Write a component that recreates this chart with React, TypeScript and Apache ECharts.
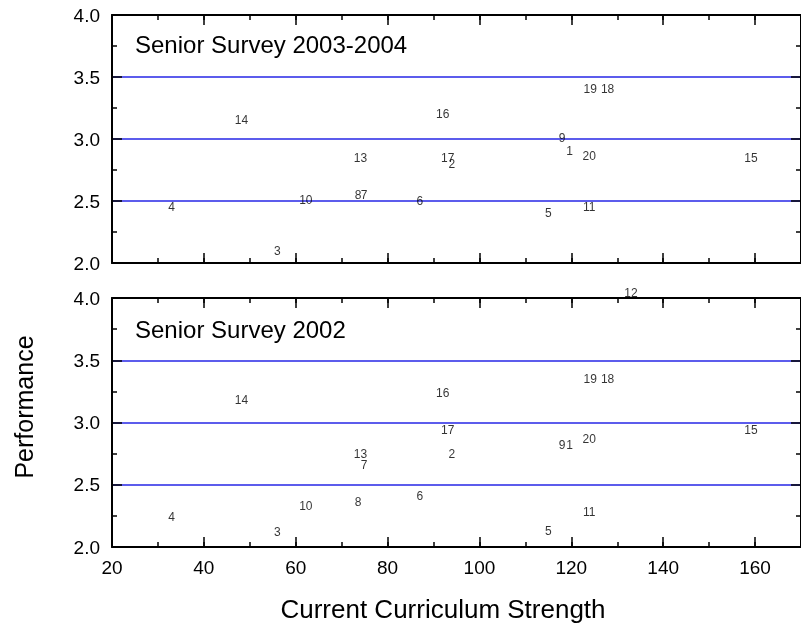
import React, { useEffect, useRef } from "react";
import * as echarts from "echarts";

const pointIds = ["1", "2", "3", "4", "5", "6", "7", "8", "9", "10", "11", "12", "13", "14", "15", "16", "17", "18", "19", "20"];
const curriculum = [119.6, 94.0, 56.0, 33.0, 115.0, 87.0, 74.9, 73.6, 118.0, 62.2, 123.9, 133.0, 74.1, 48.2, 159.1, 92.0, 93.1, 127.9, 124.1, 123.9];
const perf2004: (number | null)[] = [2.9, 2.8, 2.1, 2.45, 2.4, 2.5, 2.55, 2.55, 3.01, 2.51, 2.45, null, 2.85, 3.15, 2.85, 3.2, 2.85, 3.4, 3.4, 2.86];
const perf2002 = [2.82, 2.75, 2.12, 2.24, 2.13, 2.41, 2.66, 2.36, 2.82, 2.33, 2.28, 4.04, 2.75, 3.18, 2.94, 3.24, 2.94, 3.35, 3.35, 2.87];
const panelTitles = ["Senior Survey 2003-2004", "Senior Survey 2002"];
const xTitle = "Current Curriculum Strength";
const yTitle = "Performance";

const FONT = "'Liberation Sans', Arial, Helvetica, sans-serif";
const BLUE = "#2626e6";

function xAxes(gridIndex: number, withLabels: boolean) {
  const base = { type: "value", gridIndex, min: 20, max: 170, splitLine: { show: false } };
  return [
    {
      ...base, position: "bottom", interval: 20,
      axisLine: { show: true, lineStyle: { color: "#000", width: 2 } },
      axisTick: { show: true, inside: true, length: 10, lineStyle: { color: "#000", width: 1.5 } },
      axisLabel: {
        show: withLabels, margin: 11, fontSize: 19, fontFamily: FONT, color: "#000",
        showMaxLabel: false,
      },
    },
    {
      ...base, position: "bottom", interval: 10,
      axisLine: { show: false },
      axisTick: { show: true, inside: true, length: 5, lineStyle: { color: "#000", width: 1.5 } },
      axisLabel: { show: false },
    },
    {
      ...base, position: "top", interval: 20,
      axisLine: { show: true, lineStyle: { color: "#000", width: 2 } },
      axisTick: { show: true, inside: true, length: 10, lineStyle: { color: "#000", width: 1.5 } },
      axisLabel: { show: false },
    },
    {
      ...base, position: "top", interval: 10,
      axisLine: { show: false },
      axisTick: { show: true, inside: true, length: 5, lineStyle: { color: "#000", width: 1.5 } },
      axisLabel: { show: false },
    },
  ];
}

function yAxes(gridIndex: number) {
  const base = {
    type: "value", gridIndex, min: 2, max: 4, interval: 0.5,
    axisLine: { show: true, lineStyle: { color: "#000", width: 2 } },
    axisTick: { show: true, inside: true, length: 10, lineStyle: { color: "#000", width: 1.5 } },
    minorTick: { show: true, splitNumber: 2, length: 5, lineStyle: { color: "#000", width: 1.5 } },
  };
  return [
    {
      ...base, position: "left",
      axisLabel: {
        show: true, margin: 12, fontSize: 19, fontFamily: FONT, color: "#000",
        formatter: (v: number) => v.toFixed(1),
      },
      splitLine: { show: true, showMinLine: false, showMaxLine: false, lineStyle: { color: BLUE, width: 1.5 } },
    },
    {
      ...base, position: "right",
      axisLabel: { show: false },
      splitLine: { show: false },
    },
  ];
}

function pointSeries(values: (number | null)[], xIdx: number, yIdx: number) {
  const data = curriculum
    .map((x, i) => [x, values[i], pointIds[i]])
    .filter((d) => d[1] !== null);
  return {
    type: "scatter",
    xAxisIndex: xIdx,
    yAxisIndex: yIdx,
    symbolSize: 0,
    clip: false,
    silent: true,
    data,
    itemStyle: { color: "#000" },
    label: {
      show: true,
      position: "inside",
      formatter: (p: any) => p.value[2],
      fontSize: 12,
      fontFamily: FONT,
      color: "#000",
      textBorderWidth: 0,
      textBorderColor: "transparent",
    },
    emphasis: { disabled: true },
  };
}

export default function App() {
  const ref = useRef<HTMLDivElement>(null);
  useEffect(() => {
    if (!ref.current) return;
    const chart = echarts.init(ref.current, undefined, { renderer: "svg" });
    chart.setOption({
      animation: false,
      backgroundColor: "#fff",
      grid: [
        { left: 112, top: 15, width: 690, height: 248 },
        { left: 112, top: 298, width: 690, height: 249 },
      ],
      xAxis: [...xAxes(0, false), ...xAxes(1, true)],
      yAxis: [...yAxes(0), ...yAxes(1)],
      series: [pointSeries(perf2004, 0, 0), pointSeries(perf2002, 4, 2)],
      graphic: [
        {
          type: "text", left: 135, top: 44 - 12, silent: true,
          style: { text: panelTitles[0], fontSize: 24, fontFamily: FONT, fill: "#000" },
        },
        {
          type: "text", left: 135, top: 329 - 12, silent: true,
          style: { text: panelTitles[1], fontSize: 24, fontFamily: FONT, fill: "#000" },
        },
        {
          type: "text", x: 443, y: 609, silent: true,
          style: { text: xTitle, fontSize: 26, fontFamily: FONT, fill: "#000", align: "center", verticalAlign: "middle" },
        },
        {
          type: "text", x: 24, y: 407, rotation: Math.PI / 2, silent: true,
          style: { text: yTitle, fontSize: 25, fontFamily: FONT, fill: "#000", align: "center", verticalAlign: "middle" },
        },
      ],
    });
    return () => chart.dispose();
  }, []);
  return (
    <div
      ref={ref}
      style={{ position: "absolute", left: 0, top: 0, width: 801, height: 631, background: "#fff", willChange: "transform" }}
    />
  );
}
